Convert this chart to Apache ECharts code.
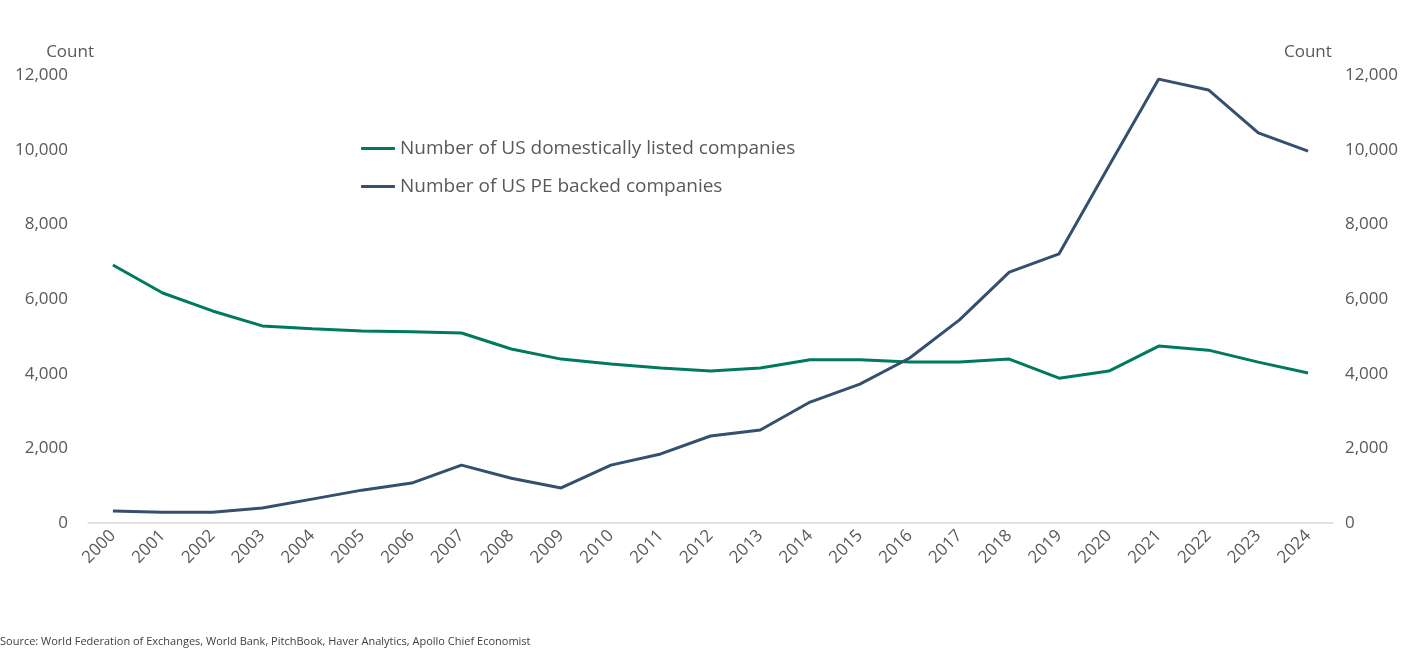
<!DOCTYPE html>
<html><head><meta charset="utf-8">
<script src="https://cdn.jsdelivr.net/npm/echarts@6/dist/echarts.min.js"></script>
<style>html,body{margin:0;padding:0;background:#fff}#c{width:1401px;height:665px}</style>
</head><body><div id="c"></div>
<script>
const years = ['2000','2001','2002','2003','2004','2005','2006','2007','2008','2009','2010','2011','2012','2013','2014','2015','2016','2017','2018','2019','2020','2021','2022','2023','2024'];
const listed = [6910,6160,5680,5280,5200,5140,5120,5090,4660,4390,4260,4150,4070,4150,4370,4370,4310,4310,4390,3880,4070,4740,4630,4310,4020];
const peBacked = [320,290,290,400,640,880,1070,1550,1200,940,1550,1850,2330,2490,3240,3720,4420,5440,6720,7210,9560,11890,11600,10450,9960];
const yTicks = {min:0,max:12000,interval:2000};
const txt = '#595959', font = 'Open Sans';
const chart = echarts.init(document.getElementById('c'));
const yAxisBase = {
  type:'value', min:yTicks.min, max:yTicks.max, interval:yTicks.interval,
  name:'Count', nameGap:14,
  nameTextStyle:{color:txt,fontSize:17,fontFamily:font},
  splitLine:{show:false}, axisLine:{show:false}, axisTick:{show:false},
  axisLabel:{color:txt,fontSize:17,fontFamily:font}
};
chart.setOption({
  animation:false,
  textStyle:{fontFamily:font},
  grid:{left:88,right:61,top:75,bottom:142},
  legend:{orient:'vertical',left:356,top:134,itemGap:19,itemWidth:34,itemHeight:3,
    icon:'roundRect',
    textStyle:{color:txt,fontSize:19,fontFamily:font},
    data:['Number of US domestically listed companies','Number of US PE backed companies']},
  xAxis:{type:'category',data:years,boundaryGap:true,
    axisLine:{lineStyle:{color:'#d9d9d9',width:1.5}},axisTick:{show:false},
    axisLabel:{color:txt,fontSize:17,fontFamily:font,rotate:45,margin:10}},
  yAxis:[
    Object.assign({},yAxisBase,{position:'left',axisLabel:Object.assign({},yAxisBase.axisLabel,{margin:20}),nameTextStyle:Object.assign({},yAxisBase.nameTextStyle,{align:'right',padding:[0,-6,0,0]})}),
    Object.assign({},yAxisBase,{position:'right',axisLabel:Object.assign({},yAxisBase.axisLabel,{margin:12}),nameTextStyle:Object.assign({},yAxisBase.nameTextStyle,{align:'left',padding:[0,0,0,-49]})})
  ],
  graphic:[{type:'text',left:0,top:636,style:{text:'Source: World Federation of Exchanges, World Bank, PitchBook, Haver Analytics, Apollo Chief Economist',fill:'#404040',fontSize:11,fontFamily:font}}],
  series:[
    {name:'Number of US domestically listed companies',type:'line',data:listed,yAxisIndex:0,symbol:'none',
      lineStyle:{color:'#007a5e',width:3},itemStyle:{color:'#007a5e'}},
    {name:'Number of US PE backed companies',type:'line',data:peBacked,yAxisIndex:1,symbol:'none',
      lineStyle:{color:'#34506e',width:3},itemStyle:{color:'#34506e'}}
  ]
});
</script></body></html>
